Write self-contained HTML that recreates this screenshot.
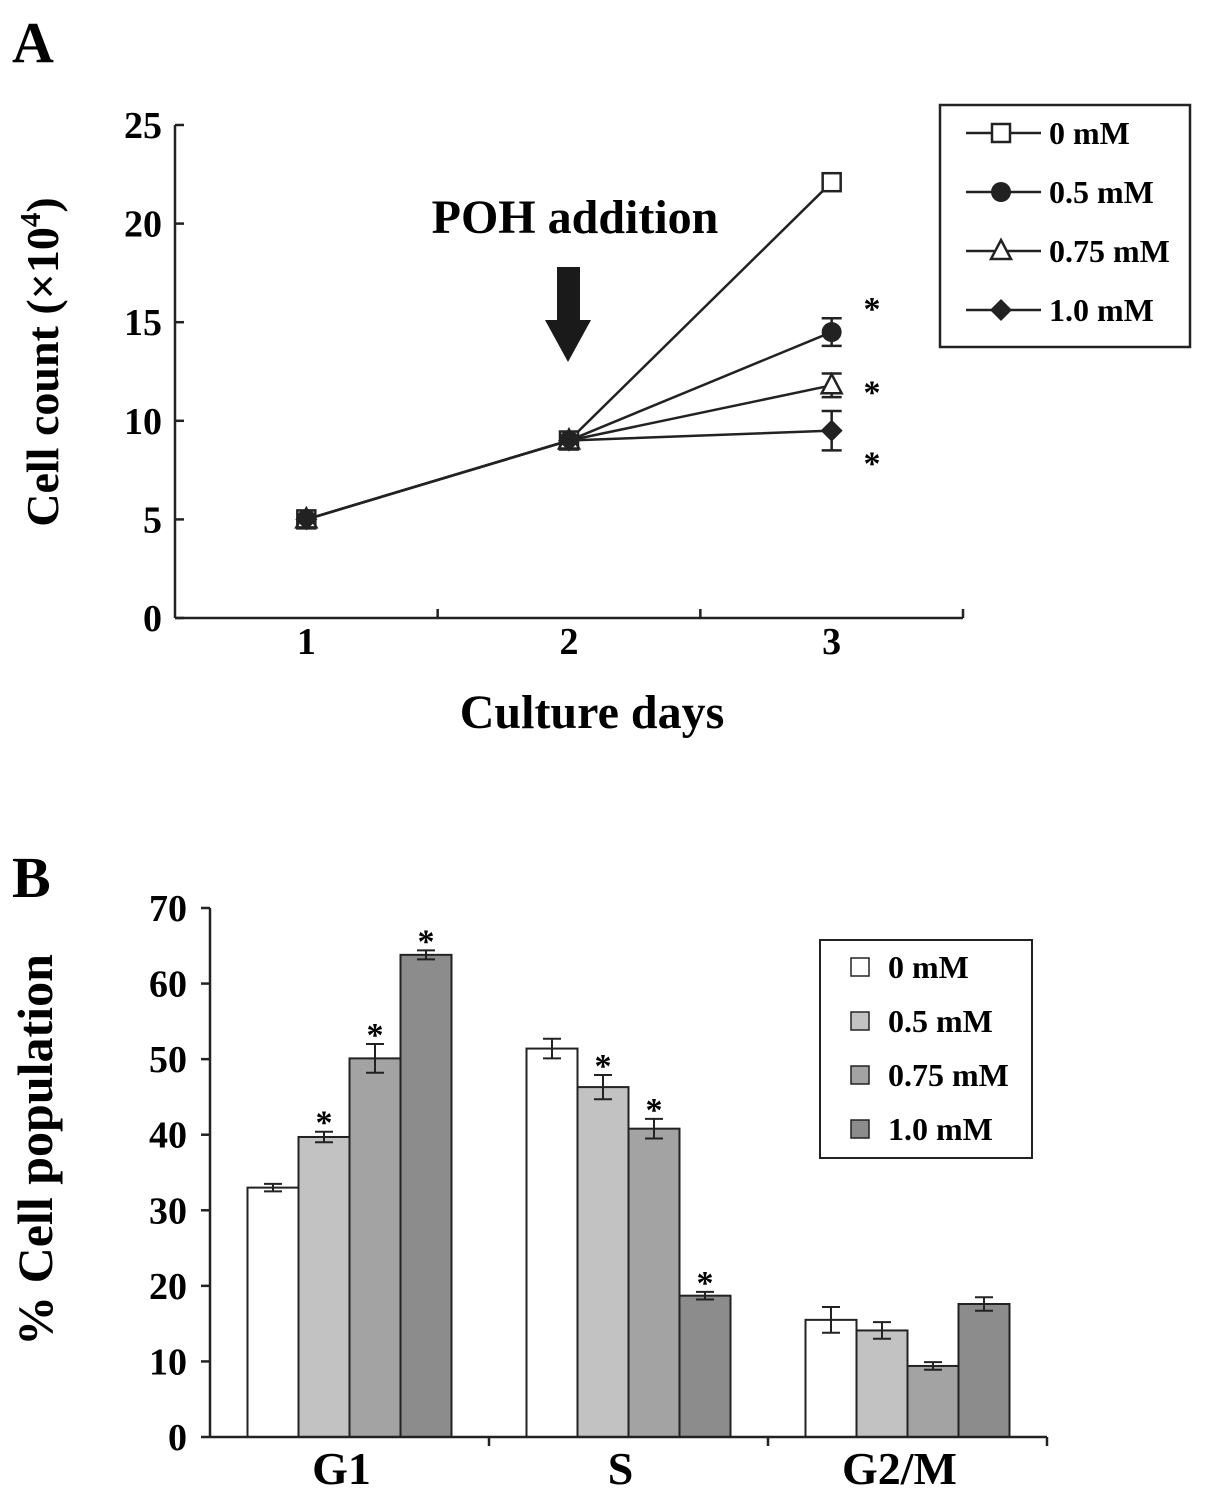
<!DOCTYPE html>
<html><head><meta charset="utf-8">
<style>
html,body{margin:0;padding:0;background:#fff;}
svg{display:block;font-family:"Liberation Serif",serif;font-weight:bold;}
</style></head>
<body>
<svg id="fig" width="1205" height="1495" viewBox="0 0 1205 1495" xmlns="http://www.w3.org/2000/svg">
<text x="12" y="62" font-size="58">A</text>
<text x="12" y="897" font-size="58">B</text>
<g id="chartA"></g>
<g id="chartB"></g>
</svg>
<script>
const daysA = ["1","2","3"];
const seriesNamesA = ["0 mM","0.5 mM","0.75 mM","1.0 mM"];
const vals0 = [5, 9, 22.1];
const vals05 = [5, 9, 14.5];
const vals075 = [5, 9, 11.8];
const vals10 = [5, 9, 9.5];
const errs0 = [0, 0, 0.2];
const errs05 = [0, 0, 0.7];
const errs075 = [0, 0, 0.6];
const errs10 = [0, 0, 1.0];
const yTicksA = [0,5,10,15,20,25];

const groupsB = ["G1","S","G2/M"];
const seriesNamesB = ["0 mM","0.5 mM","0.75 mM","1.0 mM"];
const b0 = [33.0, 51.4, 15.5];
const b05 = [39.7, 46.3, 14.1];
const b075 = [50.1, 40.8, 9.4];
const b10 = [63.8, 18.7, 17.6];
const e0 = [0.5, 1.3, 1.7];
const e05 = [0.7, 1.6, 1.1];
const e075 = [1.9, 1.3, 0.5];
const e10 = [0.6, 0.5, 0.9];
const sigB = [[false,false,false],[true,true,false],[true,true,false],[true,true,false]];
const yTicksB = [0,10,20,30,40,50,60,70];

const NS="http://www.w3.org/2000/svg";
function mk(parent,tag,attrs,text){const e=document.createElementNS(NS,tag);for(const k in attrs)e.setAttribute(k,attrs[k]);if(text!==undefined)e.textContent=text;parent.appendChild(e);return e;}

// ---- Chart A ----
const A=document.getElementById('chartA');
const ax0=175, ax1=963, ayTop=125, ayBot=618;
const xA=i=>ax0+(ax1-ax0)/3*(i+0.5);
const yA=v=>ayBot-(v/25)*(ayBot-ayTop);
let el;
el=mk(A,'line',{x1:ax0,y1:ayTop,x2:ax0,y2:ayBot,stroke:'#222','stroke-width':2.5});


el=mk(A,'line',{x1:ax0,y1:ayBot,x2:ax1,y2:ayBot,stroke:'#222','stroke-width':2.5});


yTicksA.forEach(t=>{
 mk(A,'line',{x1:ax0,y1:yA(t),x2:ax0+9,y2:yA(t),stroke:'#222','stroke-width':2.5});
 el=mk(A,'text',{x:162,y:yA(t)+13,'font-size':38,'text-anchor':'end'},String(t));
 
 
});
for(let i=1;i<=3;i++){const x=ax0+(ax1-ax0)/3*i;mk(A,'line',{x1:x,y1:ayBot,x2:x,y2:ayBot-9,stroke:'#222','stroke-width':2.5});}
daysA.forEach((d,i)=>{el=mk(A,'text',{x:xA(i),y:654,'font-size':38,'text-anchor':'middle'},d);
 
 });
el=mk(A,'text',{x:592,y:728,'font-size':48,'text-anchor':'middle'},'Culture days');


el=mk(A,'text',{x:0,y:0,'font-size':46,'text-anchor':'middle',transform:'translate(58,362) rotate(-90)'});


el.innerHTML='Cell count (×10<tspan font-size="29" dy="-18">4</tspan><tspan dy="18">)</tspan>';
el=mk(A,'text',{x:575,y:233,'font-size':48,'text-anchor':'middle'},'POH addition');


el=mk(A,'polygon',{points:'557,267 580,267 580,320 591,320 568,362 545,320 557,320',fill:'#1a1a1a'});



function marker(g,type,x,y,s){
 if(type==0) return mk(g,'rect',{x:x-9,y:y-9,width:18,height:18,fill:'#fff',stroke:'#222','stroke-width':2.5});
 if(type==1) return mk(g,'circle',{cx:x,cy:y,r:10,fill:'#222'});
 if(type==2) return mk(g,'polygon',{points:`${x},${y-11} ${x+10},${y+8} ${x-10},${y+8}`,fill:'#fff',stroke:'#222','stroke-width':2.5});
 return mk(g,'polygon',{points:`${x},${y-11} ${x+11},${y} ${x},${y+11} ${x-11},${y}`,fill:'#222'});
}
const allVals=[vals0,vals05,vals075,vals10], allErrs=[errs0,errs05,errs075,errs10];
allVals.forEach((vals,s)=>{
 const g=mk(A,'g',{});
 
 
 let pts=vals.map((v,i)=>xA(i)+','+yA(v)).join(' ');
 mk(g,'polyline',{points:pts,fill:'none',stroke:'#222','stroke-width':2.5});
 vals.forEach((v,i)=>{
  const e=allErrs[s][i];
  if(e>0){const x=xA(i);
   mk(g,'line',{x1:x,y1:yA(v+e),x2:x,y2:yA(v-e),stroke:'#222','stroke-width':2.5});
   mk(g,'line',{x1:x-10,y1:yA(v+e),x2:x+10,y2:yA(v+e),stroke:'#222','stroke-width':2.5});
   mk(g,'line',{x1:x-10,y1:yA(v-e),x2:x+10,y2:yA(v-e),stroke:'#222','stroke-width':2.5});}
  const m=marker(g,s,xA(i),yA(v));
  
  
 });
});
[[1,yA(vals05[2])-12],[2,yA(vals075[2])+18],[3,yA(vals10[2])+44]].forEach(([s,y])=>{
 el=mk(A,'text',{x:872,y:y,'font-size':34,'text-anchor':'middle'},'*');
 
 
});
const LA=mk(A,'g',{});


mk(LA,'rect',{x:940,y:105,width:250,height:242,fill:'#fff',stroke:'#222','stroke-width':2.5});
seriesNamesA.forEach((n,s)=>{
 const y=133+s*59;
 mk(LA,'line',{x1:966,y1:y,x2:1041,y2:y,stroke:'#222','stroke-width':2.5});
 marker(LA,s,1001,y);
 el=mk(LA,'text',{x:1049,y:y+11,'font-size':32},n);
 
 
});

// ---- Chart B ----
const B=document.getElementById('chartB');
const bx0=210, bx1=1047, byTop=908, byBot=1437;
const gw=(bx1-bx0)/3, bw=51;
const yB=v=>byBot-(v/70)*(byBot-byTop);
const colors=['#ffffff','#c2c2c2','#a3a3a3','#8c8c8c'];
const allB=[b0,b05,b075,b10], allE=[e0,e05,e075,e10];
allB.forEach((vals,s)=>{
 vals.forEach((v,i)=>{
  const x=bx0+gw*i+(gw-4*bw)/2+s*bw;
  el=mk(B,'rect',{x:x,y:yB(v),width:bw,height:byBot-yB(v),fill:colors[s],stroke:'#222','stroke-width':2});
  
  
  const e=allE[s][i], cx=x+bw/2;
  mk(B,'line',{x1:cx,y1:yB(v+e),x2:cx,y2:yB(v-e),stroke:'#222','stroke-width':2});
  mk(B,'line',{x1:cx-9,y1:yB(v+e),x2:cx+9,y2:yB(v+e),stroke:'#222','stroke-width':2});
  mk(B,'line',{x1:cx-9,y1:yB(v-e),x2:cx+9,y2:yB(v-e),stroke:'#222','stroke-width':2});
  if(sigB[s][i]){el=mk(B,'text',{x:cx,y:yB(v+e)+2,'font-size':34,'text-anchor':'middle'},'*');
   
   }
 });
});
el=mk(B,'line',{x1:bx0,y1:byTop,x2:bx0,y2:byBot,stroke:'#222','stroke-width':2.5});


el=mk(B,'line',{x1:bx0,y1:byBot,x2:bx1,y2:byBot,stroke:'#222','stroke-width':2.5});


yTicksB.forEach(t=>{
 mk(B,'line',{x1:bx0-9,y1:yB(t),x2:bx0,y2:yB(t),stroke:'#222','stroke-width':2.5});
 el=mk(B,'text',{x:187,y:yB(t)+13,'font-size':38,'text-anchor':'end'},String(t));
 
 
});
for(let i=1;i<=3;i++){const x=bx0+gw*i;mk(B,'line',{x1:x,y1:byBot,x2:x,y2:byBot+9,stroke:'#222','stroke-width':2.5});}
groupsB.forEach((g,i)=>{el=mk(B,'text',{x:bx0+gw*(i+0.5)-8,y:1484,'font-size':46,'text-anchor':'middle'},g);
 
 });
el=mk(B,'text',{x:0,y:0,'font-size':50,'text-anchor':'middle',transform:'translate(52,1150) rotate(-90)'},'% Cell population');


const LB=mk(B,'g',{});


mk(LB,'rect',{x:820,y:940,width:212,height:218,fill:'#fff',stroke:'#222','stroke-width':2});
seriesNamesB.forEach((n,s)=>{
 const y=967+s*54;
 mk(LB,'rect',{x:851,y:y-9,width:18,height:18,fill:colors[s],stroke:'#222','stroke-width':1.5});
 el=mk(LB,'text',{x:888,y:y+11,'font-size':32},n);
 
 
});
</script>
</body></html>
